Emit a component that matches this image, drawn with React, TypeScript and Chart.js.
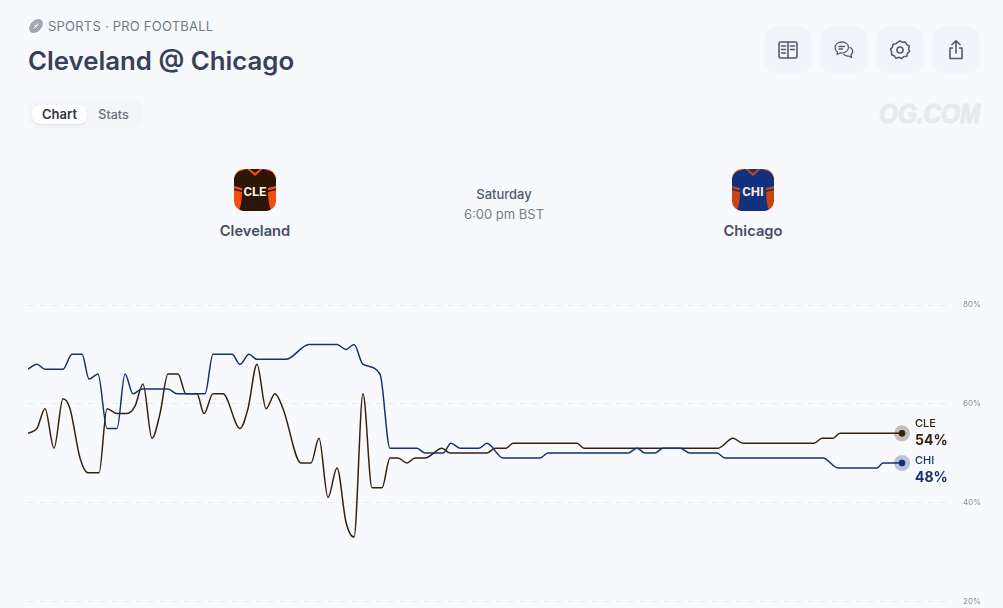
import React, { useEffect, useRef } from "react";
import { Chart, registerables } from "chart.js";

Chart.register(...registerables);

const chiClock = [0,9,17,35,44,54,61,70,79,89,97,105,114,140,149,177,185,204,212,221,229,258,281,309,318,326,335,352,362,389,397,415,423,432,451,459,475,512,520,600,609,617,627,635,652,662,689,697,795,810,849,855,874];
const chiPct = [67,68,67,67,70,70,65,66,55,55,66,62,63,63,62,62,70,70,68,70,69,69,72,72,71,72,68,66,51,51,50,50,52,51,51,52,49,49,50,50,51,50,50,51,51,50,50,49,49,47,47,48,48];
const cleClock = [0,9,17,26,35,42,52,60,71,79,89,99,107,115,124,132,140,150,158,169,176,185,195,212,220,229,238,247,255,273,283,291,300,309,318,326,335,344,354,362,370,379,387,397,414,422,459,467,478,485,549,556,690,705,715,786,794,805,812,874];
const clePct = [54,55,59,51,61,59,49,46,46,59,58,58,59.5,64,53,58,66,66,62,62,58,62,62,55,59,68,59,62,59,48,48,53,41,47,36,33,62,43,43,49,49,48,49,49,51,50,50,51,51,52,52,51,51,53,52,52,53,53,54,54];
const yTicks = [20, 40, 60, 80];
const CLE = "#35210c";
const CHI = "#17306f";

const toPoints = (xs: number[], ys: number[]) => xs.map((x, i) => ({ x, y: ys[i] }));
const lastPoint = (xs: number[], ys: number[]) => [{ x: xs[xs.length - 1], y: ys[ys.length - 1] }];

const endLabels = {
  id: "endLabels",
  afterDatasetsDraw(chart: any) {
    const { ctx, scales } = chart;
    const rows = [
      { name: "CLE", value: clePct[clePct.length - 1], clock: cleClock[cleClock.length - 1], color: CLE, a: -9.5, b: 7.5 },
      { name: "CHI", value: chiPct[chiPct.length - 1], clock: chiClock[chiClock.length - 1], color: CHI, a: -2.5, b: 14.5 },
    ];
    ctx.save();
    ctx.textAlign = "left";
    ctx.textBaseline = "middle";
    for (const r of rows) {
      const x = scales.x.getPixelForValue(r.clock) + 13;
      const y = scales.y.getPixelForValue(r.value);
      ctx.fillStyle = r.color;
      ctx.font = "500 11px Inter";
      ctx.fillText(r.name, x, y + r.a);
      ctx.font = "700 14px Inter";
      ctx.fillText(`${r.value}%`, x, y + r.b);
    }
    ctx.restore();
  },
};

const abs = (left: number, top: number, extra: React.CSSProperties = {}): React.CSSProperties => ({
  position: "absolute", left, top, whiteSpace: "nowrap", ...extra,
});
const centered = (cx: number, cy: number, extra: React.CSSProperties = {}): React.CSSProperties => ({
  position: "absolute", left: cx, top: cy, transform: "translate(-50%,-50%)", whiteSpace: "nowrap", ...extra,
});

function Jersey({ x, bg, shirt, code }: { x: number; bg: string; shirt: string; code: string }) {
  return (
    <svg style={{ position: "absolute", left: x, top: 169 }} width={42} height={42} viewBox="0 0 42 42">
      <defs>
        <clipPath id={`clip-${code}`}><rect width="42" height="42" rx="10" /></clipPath>
      </defs>
      <g clipPath={`url(#clip-${code})`}>
        <rect width="42" height="42" fill={bg} />
        <path d="M13 0 H29 L38 3 L42 8 V21 L34 23 C34 30 35 36 37 42 H5 C7 36 8 30 8 23 L0 21 V8 L4 3 Z" fill={shirt} />
        <path d="M13 0 L21 7 L29 0 H26 L21 4 L16 0 Z" fill={bg} />
        <path d="M0 17 L8 19 V21.500 L0 19.500 Z M42 17 L34 19 V21.500 L42 19.500 Z" fill={bg} />
        <text x="21" y="26.500" textAnchor="middle" fontFamily="Liberation Sans Narrow, Roboto" fontWeight="700" fontSize="13" fill="#fbeee0">{code}</text>
      </g>
    </svg>
  );
}

const iconStroke = { fill: "none", stroke: "#555a6b", strokeWidth: 1.6, strokeLinecap: "round", strokeLinejoin: "round" } as const;

function IconButton({ x, children }: { x: number; children: React.ReactNode }) {
  return (
    <div style={{ position: "absolute", left: x, top: 26, width: 48, height: 48, borderRadius: 15, background: "#f1f4f9" }}>
      <svg style={{ position: "absolute", left: 12, top: 12 }} width={24} height={24} viewBox="0 0 24 24" {...iconStroke}>{children}</svg>
    </div>
  );
}

export default function App() {
  const ref = useRef<HTMLCanvasElement>(null);
  useEffect(() => {
    const chart = new Chart(ref.current!, {
      type: "line",
      data: {
        datasets: [
          { label: "CHI dot", data: lastPoint(chiClock, chiPct), borderColor: CHI, backgroundColor: CHI, pointRadius: 3, showLine: false },
          { label: "CLE dot", data: lastPoint(cleClock, clePct), borderColor: CLE, backgroundColor: CLE, pointRadius: 3, showLine: false },
          { label: "CHI", data: toPoints(chiClock, chiPct), borderColor: CHI, borderWidth: 1.5, pointRadius: 0, cubicInterpolationMode: "monotone" },
          { label: "CLE", data: toPoints(cleClock, clePct), borderColor: CLE, borderWidth: 1.5, pointRadius: 0, cubicInterpolationMode: "monotone" },
          { label: "CHI halo", data: lastPoint(chiClock, chiPct), backgroundColor: "rgba(23,48,111,0.27)", borderWidth: 0, pointRadius: 8, showLine: false },
          { label: "CLE halo", data: lastPoint(cleClock, clePct), backgroundColor: "rgba(53,33,12,0.27)", borderWidth: 0, pointRadius: 8, showLine: false },
        ],
      },
      options: {
        animation: false,
        responsive: false,
        events: [],
        layout: { padding: { left: 28, right: 0, top: 305, bottom: 7 } },
        plugins: { legend: { display: false }, tooltip: { enabled: false } },
        scales: {
          x: { type: "linear", min: 0, max: 925, display: false },
          y: {
            position: "right",
            min: 20,
            max: 80,
            afterBuildTicks: (s: any) => { s.ticks = yTicks.map((value) => ({ value })); },
            afterFit: (s: any) => { s.width = 50; },
            grid: { color: "#e6e9ee", lineWidth: 1, tickLength: 0, drawTicks: false },
            border: { display: false, dash: [6, 6] },
            ticks: {
              color: "#8b8f98",
              font: { family: "Inter", size: 8 },
              padding: 10,
              callback: (v: any) => `${v}%`,
            },
          },
        },
      },
      plugins: [endLabels],
    } as any);
    return () => chart.destroy();
  }, []);

  return (
    <div style={{ position: "fixed", inset: 0, width: 1003, height: 608, overflow: "hidden", background: "#f7f9fd", fontFamily: "Inter, sans-serif" }}>
      <svg style={{ position: "absolute", left: 28, top: 18 }} width={16} height={16} viewBox="0 0 16 16">
        <ellipse cx="8" cy="8" rx="8" ry="5.500" transform="rotate(-45 8 8)" fill="#a2a6af" />
        <path d="M5.500 10.500 L10.500 5.500 M6.500 7 L9 9.500 M8 5.500 L10.500 8" stroke="#f7f9fd" strokeWidth="1" />
      </svg>
      <div style={abs(48, 18, { fontSize: 13, lineHeight: "17px", color: "#747987", letterSpacing: 0.22 })}>SPORTS · PRO FOOTBALL</div>
      <div style={abs(28, 44, { fontSize: 25.800, lineHeight: "34px", fontWeight: 600, color: "#3a3f5a" })}>Cleveland @ Chicago</div>

      <div style={{ position: "absolute", left: 28, top: 100, width: 115, height: 28, borderRadius: 8, background: "#f3f5f9" }} />
      <div style={{ position: "absolute", left: 32, top: 105, width: 55, height: 19, borderRadius: 8, background: "#fff", boxShadow: "0 1px 2px rgba(40,50,80,0.12)" }} />
      <div style={centered(59.500, 113.500, { fontSize: 13, fontWeight: 600, color: "#33363f" })}>Chart</div>
      <div style={centered(113.500, 113.500, { fontSize: 12.500, fontWeight: 500, color: "#6b6f7b" })}>Stats</div>

      <IconButton x={764}>
        <rect x="3" y="4" width="18" height="16" rx="1.500" />
        <path d="M12 4 V20 M5.500 8 H9.500 M5.500 11.500 H9.500 M5.500 15 H9.500 M14.500 8 H18.500 M14.500 11.500 H18.500" />
      </IconButton>
      <IconButton x={820}>
        <path d="M10 4 C5.500 4 3 6.500 3 9.500 C3 11.500 4 13 5.500 14 L5 16.500 L8 15 C12.500 15.500 16.500 13 16.500 9.500 C16.500 6.500 14 4 10 4 Z" strokeWidth="1.300" />
        <path d="M7 8.500 H12.500 M7 11 H10.500 M18 9.500 C20 10.500 21 12.500 20.500 14.500 C20.300 15.500 19.500 16.500 19 17 L19.500 19.500 L16.500 18 C14.500 18.200 13 17.500 12 16.500" strokeWidth="1.300" />
      </IconButton>
      <IconButton x={876}>
        <path d="M12 2.800 L14.500 4.300 L17.400 4 L18.700 6.600 L21.300 8 L20.600 10.800 L21.600 13.500 L19.400 15.400 L18.800 18.300 L15.900 18.600 L13.600 20.500 L11 19.300 L8 20.300 L6.300 17.800 L3.500 16.800 L3.700 13.800 L2.400 11.200 L4.500 9.100 L5 6.200 L7.900 5.700 Z" strokeWidth="1.500" />
        <circle cx="12" cy="12" r="3" />
      </IconButton>
      <IconButton x={932}>
        <path d="M12 15 V3 M8 6.500 L12 2.800 L16 6.500 M8.500 10 H6 V20.500 H18 V10 H15.500" />
      </IconButton>

      <div style={abs(879, 100, { fontFamily: "Liberation Sans", fontStyle: "italic", fontWeight: 700, fontSize: 27, lineHeight: "28px", color: "#e7e9ed", WebkitTextStroke: "1.200px #e7e9ed", transform: "scaleX(0.9)", transformOrigin: "left center" })}>OG.COM</div>

      <Jersey x={234} bg="#f24e12" shirt="#2b1608" code="CLE" />
      <Jersey x={732} bg="#c9450f" shirt="#12317f" code="CHI" />
      <div style={centered(255, 230.500, { fontSize: 14.700, fontWeight: 600, color: "#484d64" })}>Cleveland</div>
      <div style={centered(753, 230.500, { fontSize: 14.700, fontWeight: 600, color: "#484d64" })}>Chicago</div>
      <div style={centered(504, 193.500, { fontSize: 13, fontWeight: 500, color: "#565b6e" })}>Saturday</div>
      <div style={centered(504, 213.500, { fontSize: 13, color: "#777c8b" })}>6:00 pm BST</div>

      <canvas ref={ref} width={1003} height={616} style={{ position: "absolute", left: 0, top: 0, width: 1003, height: 616 }} />
    </div>
  );
}
